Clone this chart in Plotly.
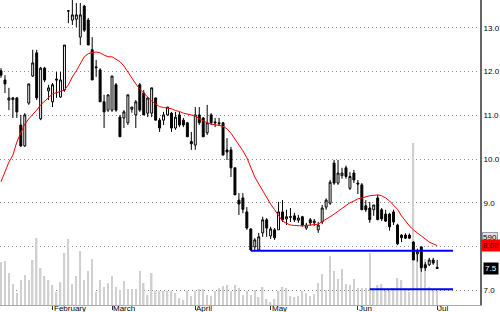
import plotly.graph_objects as go

# ---------------- data ----------------
month_names = ["February", "March", "April", "May", "Jun", "Jul"]
month_idx = [13, 28, 49, 68, 90, 110]

opens = [12.02, 11.81, 11.35, 11.36, 11.40, 10.78, 10.30, 11.28, 11.90, 12.43,
         10.92, 12.08, 11.56, 11.31, 11.83, 11.42, 11.58, 13.39, 13.18, 13.20,
         12.79, 13.50, 13.18, 12.50, 12.11, 12.04, 11.31, 11.12, 11.12, 11.70,
         10.96, 10.94, 10.83, 11.14, 11.01, 11.70, 11.51, 11.05, 11.05, 11.40,
         10.89, 10.89, 11.01, 11.05, 10.71, 11.01, 10.89, 10.83, 10.40, 10.32,
         11.01, 10.94, 10.60, 11.01, 10.85, 10.83, 10.83, 10.21, 10.21, 9.80,
         9.06, 9.11, 8.79, 8.40, 7.99, 7.92, 8.31, 8.61, 8.24, 8.38,
         8.38, 8.79, 8.63, 8.68, 8.70, 8.60, 8.68, 8.42, 8.61, 8.54,
         8.38, 8.56, 8.90, 8.99, 9.91, 9.45, 9.62, 9.80, 9.33, 9.68,
         9.45, 9.41, 8.93, 8.88, 8.84, 9.11, 8.84, 8.74, 8.74, 8.79,
         8.49, 8.26, 8.26, 8.26, 8.10, 7.83, 7.99, 7.58, 7.58, 7.69,
         7.52]
highs = [12.08, 11.92, 11.63, 11.42, 11.42, 11.01, 11.05, 11.72, 12.50, 12.50,
         12.11, 12.11, 11.70, 11.74, 11.99, 11.99, 12.61, 13.41, 13.64, 13.57,
         13.57, 13.53, 13.23, 12.79, 12.27, 12.08, 11.47, 11.47, 11.90, 11.74,
         11.01, 11.12, 11.47, 11.19, 11.35, 11.74, 11.58, 11.40, 11.63, 11.40,
         10.94, 11.08, 11.19, 11.08, 11.08, 11.08, 10.94, 10.85, 10.62, 11.19,
         11.19, 10.96, 11.24, 11.05, 10.94, 10.94, 10.85, 10.48, 10.28, 9.80,
         9.22, 9.22, 8.90, 8.42, 8.19, 8.31, 8.68, 8.65, 8.45, 8.42,
         9.02, 9.06, 8.84, 8.88, 8.77, 8.72, 8.70, 8.54, 8.65, 8.63,
         8.56, 8.95, 9.10, 9.52, 9.98, 9.98, 9.80, 9.85, 9.70, 9.75,
         9.52, 9.45, 9.06, 9.02, 8.95, 9.18, 8.88, 8.84, 8.77, 8.84,
         8.52, 8.28, 8.30, 8.30, 8.12, 7.95, 7.99, 7.64, 7.74, 7.74,
         7.69]
lows = [11.86, 11.51, 11.12, 10.94, 10.94, 10.28, 10.28, 11.24, 11.88, 11.35,
        10.89, 11.76, 11.35, 11.19, 11.40, 11.40, 11.54, 13.11, 13.07, 13.02,
        12.61, 12.91, 12.61, 11.81, 11.88, 11.31, 10.71, 11.08, 11.08, 11.08,
        10.51, 10.71, 10.78, 11.06, 10.71, 11.08, 11.01, 10.96, 10.96, 10.89,
        10.62, 10.78, 10.99, 10.62, 10.67, 10.73, 10.73, 10.51, 10.21, 10.21,
        10.78, 10.51, 10.55, 10.78, 10.73, 10.76, 10.09, 9.98, 9.59, 9.18,
        8.72, 8.76, 8.38, 7.90, 7.92, 7.90, 8.22, 8.22, 8.17, 8.15,
        8.38, 8.56, 8.49, 8.56, 8.56, 8.54, 8.45, 8.38, 8.47, 8.47,
        8.31, 8.51, 8.84, 8.95, 9.41, 9.41, 9.55, 9.55, 9.29, 9.45,
        9.20, 8.84, 8.79, 8.54, 8.70, 8.61, 8.58, 8.56, 8.36, 8.49,
        8.03, 8.10, 8.17, 8.17, 7.69, 7.65, 7.42, 7.44, 7.55, 7.58,
        7.49]
closes = [11.92, 11.72, 11.40, 11.40, 11.08, 10.30, 11.01, 11.72, 12.20, 11.40,
          12.08, 11.81, 11.63, 11.70, 11.81, 11.81, 12.61, 13.39, 13.30, 13.30,
          13.30, 12.95, 12.61, 11.81, 12.09, 11.31, 11.08, 11.47, 11.90, 11.12,
          10.51, 11.08, 11.47, 11.19, 11.31, 11.12, 11.01, 11.40, 11.63, 10.89,
          10.71, 11.01, 11.19, 10.71, 10.96, 10.78, 10.78, 10.51, 10.35, 11.01,
          10.83, 10.51, 10.83, 10.83, 10.83, 10.81, 10.09, 10.16, 9.80, 9.18,
          8.97, 8.85, 8.42, 7.92, 8.15, 8.22, 8.61, 8.42, 8.40, 8.20,
          8.79, 8.61, 8.68, 8.67, 8.61, 8.65, 8.49, 8.49, 8.54, 8.58,
          8.49, 8.88, 9.06, 9.47, 9.45, 9.68, 9.68, 9.60, 9.60, 9.52,
          9.43, 8.84, 8.84, 8.61, 8.95, 8.61, 8.63, 8.58, 8.45, 8.56,
          8.06, 8.20, 8.19, 8.19, 7.69, 7.88, 7.51, 7.51, 7.69, 7.62,
          7.50]

moving_avg = [9.48, 9.73, 9.93, 10.09, 10.39, 10.60, 10.80, 10.92, 11.01, 11.12,
              11.24, 11.33, 11.42, 11.49, 11.52, 11.55, 11.58, 11.70, 11.88, 12.02,
              12.18, 12.34, 12.41, 12.44, 12.45, 12.43, 12.38, 12.34, 12.34, 12.29,
              12.23, 12.13, 11.99, 11.83, 11.72, 11.60, 11.51, 11.40, 11.33, 11.26,
              11.20, 11.18, 11.16, 11.15, 11.11, 11.09, 11.05, 11.03, 11.01, 10.99,
              10.92, 10.87, 10.83, 10.80, 10.79, 10.77, 10.75, 10.69, 10.59, 10.46,
              10.32, 10.19, 10.03, 9.80, 9.59, 9.43, 9.27, 9.11, 8.97, 8.84,
              8.71, 8.58, 8.53, 8.49, 8.48, 8.47, 8.47, 8.48, 8.49, 8.50,
              8.51, 8.57, 8.62, 8.68, 8.74, 8.81, 8.88, 8.95, 9.00, 9.04,
              9.09, 9.11, 9.14, 9.16, 9.17, 9.18, 9.16, 9.11, 9.04, 8.95,
              8.85, 8.70, 8.58, 8.47, 8.38, 8.30, 8.24, 8.17, 8.10, 8.06,
              8.02]

volume = [430, 440, 320, 210, 120, 250, 300, 250, 450, 670,
          370, 290, 250, 200, 130, 230, 520, 660, 210, 290,
          540, 250, 340, 460, 130, 250, 180, 220, 290, 180,
          150, 240, 160, 160, 160, 340, 220, 100, 320, 140,
          140, 140, 140, 140, 120, 70, 50, 140, 90, 140,
          160, 160, 100, 90, 140, 170, 190, 200, 140, 200,
          170, 100, 140, 100, 150, 80, 180, 60, 30, 60,
          140, 180, 170, 90, 80, 90, 140, 120, 90, 110,
          220, 310, 150,
          490, 340, 260, 360, 210, 200, 260, 170, 170, 170,
          520, 150, 200, 210, 140, 140, 170, 270, 250, 170,
          130, 1620, 520, 520, 460, 180, 140, 140]

support_levels = [7.90, 7.02]
support_start = [63, 93]
support_end = [114, 114]

price_ticks = [7, 8, 9, 10, 11, 12, 13]
hidden_tick = 8          # its label is covered by the moving-average value box
volume_label = "590"

idx = list(range(len(closes)))

# ---------------- figure ----------------
FONT = "Liberation Sans, Arial, sans-serif"
fig = go.Figure()

fig.add_trace(go.Bar(
    x=idx, y=volume, yaxis="y", width=0.38,
    marker=dict(color="#d0d0d0", line=dict(width=0)),
    hoverinfo="skip"))

fig.add_trace(go.Candlestick(
    x=idx, open=opens, high=highs, low=lows, close=closes, yaxis="y2",
    whiskerwidth=0,
    increasing=dict(line=dict(color="black", width=1), fillcolor="white"),
    decreasing=dict(line=dict(color="black", width=1), fillcolor="black")))

fig.add_trace(go.Scatter(
    x=idx, y=moving_avg, yaxis="y2", mode="lines",
    line=dict(color="#ff0000", width=1)))

for lvl, s, e in zip(support_levels, support_start, support_end):
    fig.add_trace(go.Scatter(
        x=[s, e], y=[lvl, lvl], yaxis="y2", mode="lines",
        line=dict(color="#0000ff", width=2)))

annotations = []
for name, i in zip(month_names, month_idx):
    annotations.append(dict(
        x=i, xref="x", y=0, yref="paper", yanchor="top", xanchor="left",
        xshift=0, yshift=2, text=name, showarrow=False, borderpad=0,
        font=dict(size=8, color="black", family=FONT)))

annotations.append(dict(
    x=1, xref="paper", y=8.21, yref="y2", xanchor="left", yanchor="middle",
    xshift=2, text=volume_label, showarrow=False, bgcolor="#e2e2e2",
    bordercolor="#9a9a9a", borderwidth=1, borderpad=0,
    font=dict(size=8, color="black", family=FONT)))
annotations.append(dict(
    x=1, xref="paper", y=moving_avg[-1], yref="y2", xanchor="left", yanchor="middle",
    xshift=1, text=f"{moving_avg[-1]:.2f}", showarrow=False, bgcolor="#ff0000",
    borderpad=1, font=dict(size=8, color="#3a0000", family=FONT)))
annotations.append(dict(
    x=1, xref="paper", y=closes[-1], yref="y2", xanchor="left", yanchor="middle",
    xshift=3, text=f"{closes[-1]:.1f}", showarrow=False, bgcolor="#000000",
    borderpad=1, font=dict(size=8, color="white", family=FONT)))

fig.update_layout(
    width=500, height=312,
    margin=dict(l=0, r=17, t=0, b=7),
    paper_bgcolor="white", plot_bgcolor="white",
    showlegend=False,
    font=dict(family=FONT, size=8, color="black"),
    xaxis=dict(
        range=[-0.25, 120.8], rangeslider=dict(visible=False),
        tickmode="array", tickvals=month_idx, showticklabels=False,
        ticks="outside", ticklen=4, tickcolor="#333", tickwidth=1,
        showgrid=False, zeroline=False,
        showline=True, linecolor="#aaaaaa", linewidth=1),
    yaxis=dict(range=[0, 3050], visible=False, showgrid=False, zeroline=False),
    yaxis2=dict(
        overlaying="y", side="right", range=[6.66, 13.64],
        tickmode="array", tickvals=price_ticks,
        ticktext=["" if v == hidden_tick else f"{v:.1f}" for v in price_ticks],
        tickfont=dict(size=8, color="black", family=FONT),
        ticks="", showgrid=True, gridcolor="#8a8a8a", griddash="1px,3px", gridwidth=1,
        zeroline=False, showline=True, linecolor="#666666", linewidth=2),
    annotations=annotations,
)

fig.write_html("out.html")
